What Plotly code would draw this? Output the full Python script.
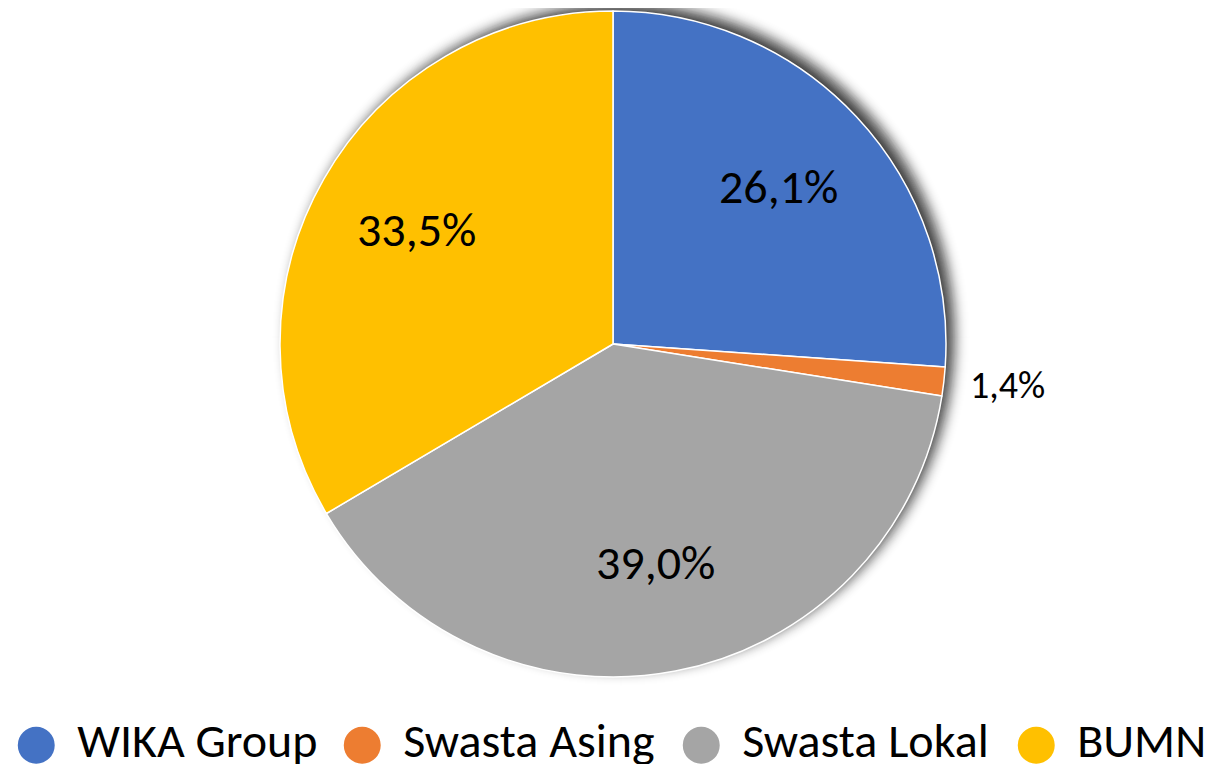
import math
import plotly.graph_objects as go

categories = ["WIKA Group", "Swasta Asing", "Swasta Lokal", "BUMN"]
values = [26.1, 1.4, 39.0, 33.5]
text_labels = ["26,1%", "1,4%", "39,0%", "33,5%"]
colors = ["#4472C4", "#ED7D31", "#A5A5A5", "#FFC000"]
label_inside = [True, False, True, True]

W, H = 1226, 764
cx, cy, r = 605, 336, 333   # pie centre / radius in figure pixels

FONT = "Calibri, Carlito, Lato, sans-serif"


def dom(x0, y0, rad):
    return dict(x=[(x0 - rad) / W, (x0 + rad) / W],
                y=[1 - (y0 + rad) / H, 1 - (y0 - rad) / H])


fig = go.Figure()

# ---- soft drop shadow (offset up-right, gaussian-like blur) ----
sdx, sdy, sigma, smax = 8, -7, 7.0, 0.75
gs = list(range(-22, 28))


def cover(e):
    return smax * 0.5 * math.erfc(e / (sigma * math.sqrt(2)))


shapes = []
for g in gs:
    t_here = 1 - cover(g)
    t_next = 1 - cover(g + 1)
    a = max(0.0, 1 - t_here / t_next)
    R = r + g
    shapes.append(dict(
        type="circle", xref="paper", yref="paper", layer="below",
        x0=(cx + sdx - R) / W, x1=(cx + sdx + R) / W,
        y0=1 - (cy + sdy + R) / H, y1=1 - (cy + sdy - R) / H,
        fillcolor=f"rgba(0,0,0,{a:.4f})", line=dict(width=0),
    ))

fig.add_trace(go.Pie(
    labels=categories,
    values=values,
    textinfo="none",
    sort=False,
    direction="clockwise",
    rotation=0,
    marker=dict(colors=colors, line=dict(color="white", width=1.5)),
    showlegend=False,
    hovertext=text_labels,
    hoverinfo="label+text",
    domain=dom(cx, cy, r),
))

# ---- data labels placed along each slice's mid-angle ----
total = sum(values)
cum = 0.0
for v, t, inside in zip(values, text_labels, label_inside):
    mid = (cum + v / 2) / total * 2 * math.pi
    cum += v
    if inside:
        d = 0.678 * r
        x = cx + d * math.sin(mid)
        y = cy - d * math.cos(mid) - 3
        fig.add_annotation(x=x / W, y=1 - y / H, xref="paper", yref="paper",
                           text=t, showarrow=False, xanchor="center", yanchor="middle",
                           font=dict(size=48, color="black", family=FONT))
    else:
        d = 1.073 * r
        x = cx + d * math.sin(mid)
        y = cy - d * math.cos(mid) + 1
        fig.add_annotation(x=x / W, y=1 - y / H, xref="paper", yref="paper",
                           text=t, showarrow=False, xanchor="left", yanchor="middle",
                           font=dict(size=38, color="black", family=FONT))

# ---- legend: one legend box per entry, big round bullets ----
bullet_center = [36, 362, 701, 1036]   # screen x of each bullet centre
legend_ids = ["legend", "legend2", "legend3", "legend4"]
legend_layout = {}
for name, col, lid, bx in zip(categories, colors, legend_ids, bullet_center):
    fig.add_trace(go.Scatter(
        x=[None], y=[None], mode="markers",
        name=f"<sub><span style='color:{col};font-size:80px'>●</span></sub> \u200a{name}",
        marker=dict(symbol="circle", size=1, color="rgba(0,0,0,0)"),
        showlegend=True, legend=lid,
    ))
    legend_layout[lid] = dict(
        orientation="h", x=(bx - 72) / W, xanchor="left",
        y=1 - 731 / H, yanchor="middle",
        font=dict(size=48, color="black", family=FONT),
        itemwidth=30, bgcolor="rgba(0,0,0,0)",
    )

fig.update_layout(
    width=W, height=H,
    margin=dict(l=0, r=0, t=0, b=0, autoexpand=False),
    paper_bgcolor="white", plot_bgcolor="rgba(0,0,0,0)",
    xaxis=dict(visible=False), yaxis=dict(visible=False),
    shapes=shapes,
    **legend_layout,
)

fig.write_html("out.html")
